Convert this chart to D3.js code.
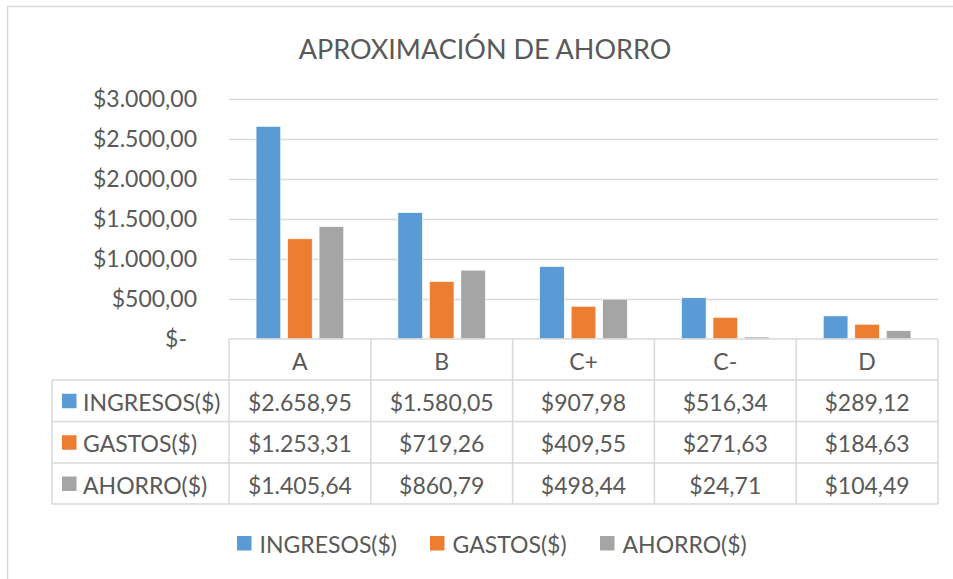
<!DOCTYPE html>
<html>
<head>
<meta charset="utf-8">
<script src="https://cdn.jsdelivr.net/npm/d3@7"></script>
<style>
  html, body { margin: 0; padding: 0; background: #fff; }
  svg { display: block; }
  text { font-family: Lato, "Open Sans", sans-serif; fill: #595959; }
</style>
</head>
<body>
<svg id="chart" width="953" height="579"></svg>
<script>
const title = "APROXIMACIÓN DE AHORRO";
const categories = ["A", "B", "C+", "C-", "D"];
const seriesNames = ["INGRESOS($)", "GASTOS($)", "AHORRO($)"];
const ingresos = [2658.95, 1580.05, 907.98, 516.34, 289.12];
const gastos = [1253.31, 719.26, 409.55, 271.63, 184.63];
const ahorro = [1405.64, 860.79, 498.44, 24.71, 104.49];
const yTicks = [0, 500, 1000, 1500, 2000, 2500, 3000];
const colors = ["#5B9BD5", "#ED7D31", "#A5A5A5"];

const seriesValues = [ingresos, gastos, ahorro];

const svg = d3.select("#chart");
const W = 953, H = 579;

// outer chart border (left and top visible)
svg.append("path")
  .attr("d", `M7.5,${H} V6.5 H${W}`)
  .attr("fill", "none").attr("stroke", "#D9D9D9").attr("stroke-width", 1.5);

// title
svg.append("text")
  .attr("x", 485).attr("y", 48.5)
  .attr("text-anchor", "middle").attr("dominant-baseline", "central")
  .style("font-size", "27px")
  .text(title);

const plot = { left: 229, right: 938, top: 99, bottom: 339 };

const x = d3.scaleBand().domain(categories).range([plot.left, plot.right]).padding(0);
const xs = d3.scaleBand().domain(seriesNames).range([0, x.bandwidth()])
  .paddingInner(0.216).paddingOuter(0.858);
const y = d3.scaleLinear().domain([0, 3000]).range([plot.bottom, plot.top]);

// gridlines
svg.append("g").selectAll("line").data(yTicks.filter(d => d > 0)).join("line")
  .attr("x1", plot.left).attr("x2", plot.right)
  .attr("y1", d => y(d) + 0.5).attr("y2", d => y(d) + 0.5)
  .attr("stroke", "#D9D9D9").attr("stroke-width", 1.3);

// y axis labels
const fmtNum = d3.formatLocale({ decimal: ",", thousands: ".", grouping: [3], currency: ["$", ""] }).format("$,.2f");
const yAxis = d3.axisLeft(y).tickValues(yTicks).tickSize(0).tickPadding(0)
  .tickFormat(d => d === 0 ? "$-" : fmtNum(d));
const gy = svg.append("g").attr("transform", `translate(197,0)`).call(yAxis);
gy.select(".domain").remove();
gy.selectAll("text")
  .style("font-size", "23px").attr("fill", "#595959")
  .style("font-family", "Lato, 'Open Sans', sans-serif")
  .attr("dx", d => d === 0 ? -10 : 0);

// bars
const rows = categories.map((c, i) => ({ cat: c, vals: seriesNames.map((s, j) => ({ s, j, v: seriesValues[j][i] })) }));
svg.append("g").selectAll("g").data(rows).join("g")
  .attr("transform", d => `translate(${x(d.cat)},0)`)
  .selectAll("rect").data(d => d.vals).join("rect")
  .attr("x", d => xs(d.s)).attr("width", xs.bandwidth())
  .attr("y", d => y(d.v)).attr("height", d => y(0) - y(d.v))
  .attr("fill", d => colors[d.j])
  .attr("stroke", "#fff").attr("stroke-width", 0.7);

// data table
const tableLeft = 52;
const rowTop = [339, 380, 421.5, 463, 504];
const lineColor = "#D9D9D9";
const tg = svg.append("g");

// horizontal lines
tg.append("line").attr("x1", plot.left).attr("x2", plot.right)
  .attr("y1", rowTop[0]).attr("y2", rowTop[0]).attr("stroke", lineColor).attr("stroke-width", 1.5);
tg.selectAll("line.h").data(rowTop.slice(1)).join("line").attr("class", "h")
  .attr("x1", tableLeft).attr("x2", plot.right)
  .attr("y1", d => d).attr("y2", d => d).attr("stroke", lineColor).attr("stroke-width", 1.5);
// vertical lines
const colEdges = categories.map(c => x(c)).concat([plot.right]);
tg.selectAll("line.v").data(colEdges).join("line").attr("class", "v")
  .attr("x1", d => d).attr("x2", d => d)
  .attr("y1", rowTop[0]).attr("y2", rowTop[4]).attr("stroke", lineColor).attr("stroke-width", 1.5);
tg.append("line").attr("x1", tableLeft).attr("x2", tableLeft)
  .attr("y1", rowTop[1]).attr("y2", rowTop[4]).attr("stroke", lineColor).attr("stroke-width", 1.5);

// header labels
tg.selectAll("text.hdr").data(categories).join("text").attr("class", "hdr")
  .attr("x", d => x(d) + x.bandwidth() / 2).attr("y", (rowTop[0] + rowTop[1]) / 2 + 1)
  .attr("text-anchor", "middle").attr("dominant-baseline", "central")
  .style("font-size", "23px").text(d => d);

// row labels with keys
seriesNames.forEach((s, j) => {
  const cy = (rowTop[j + 1] + rowTop[j + 2]) / 2;
  tg.append("rect").attr("x", 62).attr("y", cy - 7).attr("width", 14.5).attr("height", 14.5).attr("fill", colors[j]);
  tg.append("text").attr("x", 83).attr("y", cy + 1).attr("dominant-baseline", "central")
    .style("font-size", "23px").text(s);
  categories.forEach((c, i) => {
    tg.append("text").attr("x", x(c) + x.bandwidth() / 2).attr("y", cy + 1)
      .attr("text-anchor", "middle").attr("dominant-baseline", "central")
      .style("font-size", "23px").text(fmtNum(seriesValues[j][i]));
  });
});

// legend
const legendX = [237, 430, 600];
const lg = svg.append("g");
seriesNames.forEach((s, j) => {
  lg.append("rect").attr("x", legendX[j]).attr("y", 536).attr("width", 14.5).attr("height", 14.5).attr("fill", colors[j]);
  lg.append("text").attr("x", legendX[j] + 22.5).attr("y", 544).attr("dominant-baseline", "central")
    .style("font-size", "23px").text(s);
});
</script>
</body>
</html>
